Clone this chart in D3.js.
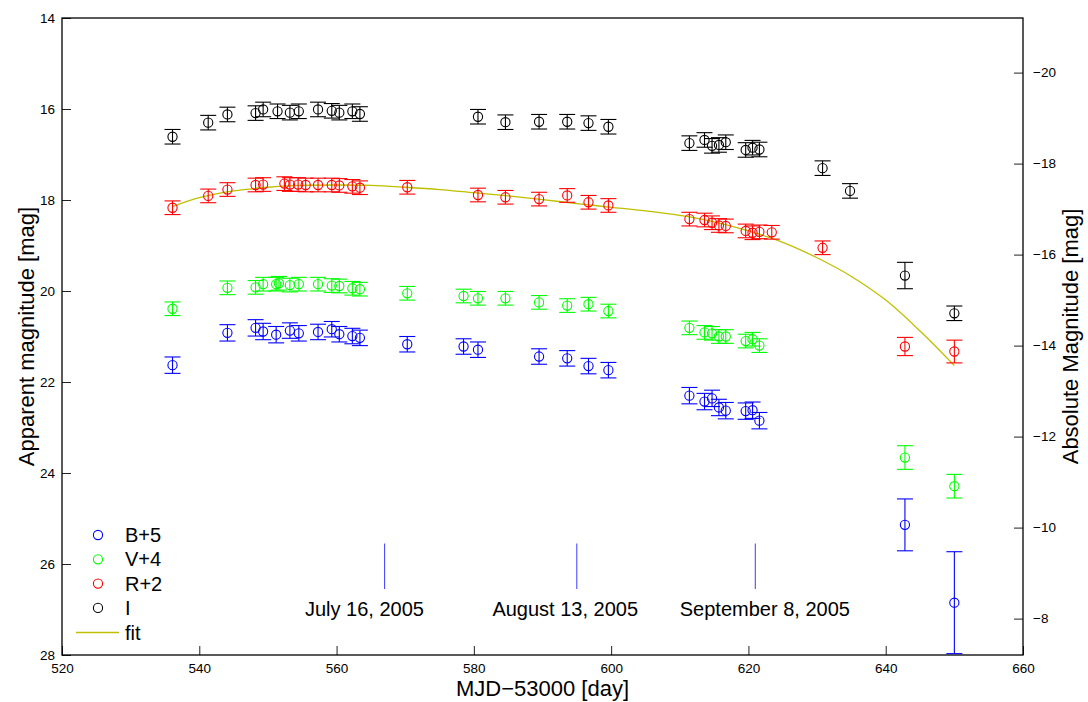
<!DOCTYPE html>
<html><head><meta charset="utf-8">
<script src="https://cdn.jsdelivr.net/npm/d3@7"></script>
<style>
html,body{margin:0;padding:0;background:#fff;}
svg{display:block;font-family:"Liberation Sans",Arial,Helvetica,sans-serif;}
</style></head>
<body><svg id="c" width="1088" height="702"></svg>
<script>
// ---------------- data ----------------
const xTicks = [520,540,560,580,600,620,640,660];
const yTicks = [14,16,18,20,22,24,26,28];
const absTicks = [-20,-18,-16,-14,-12,-10,-8];
const distMod = 35.2;

const daysB = [536.1,544.1,548.2,549.3,551.2,553.2,554.5,557.3,559.3,560.4,562.3,563.4,570.3,578.5,580.6,589.5,593.6,596.7,599.6,611.4,613.6,614.7,615.7,616.7,619.6,620.6,621.6,642.8,650.0];
const magB  = [21.63,20.92,20.81,20.89,20.96,20.87,20.93,20.90,20.84,20.95,20.99,21.03,21.17,21.22,21.29,21.44,21.48,21.65,21.74,22.30,22.43,22.36,22.56,22.63,22.64,22.62,22.85,25.14,26.85];
const errB  = [0.18,0.18,0.18,0.18,0.18,0.17,0.17,0.17,0.17,0.17,0.17,0.17,0.17,0.17,0.17,0.17,0.17,0.17,0.17,0.18,0.18,0.18,0.18,0.18,0.18,0.18,0.18,0.57,1.12];

const daysV = [536.1,544.1,548.2,549.3,551.2,551.6,553.2,554.5,557.3,559.3,560.4,562.3,563.4,570.3,578.5,580.6,584.6,589.5,593.6,596.7,599.6,611.4,613.6,614.7,615.7,616.7,619.6,620.6,621.6,642.8,650.0];
const magV  = [20.39,19.93,19.92,19.85,19.85,19.83,19.87,19.85,19.85,19.88,19.89,19.94,19.96,20.05,20.11,20.16,20.16,20.25,20.32,20.29,20.44,20.81,20.91,20.93,21.00,21.00,21.10,21.06,21.20,23.66,24.29];
const errV  = [0.15,0.15,0.15,0.15,0.15,0.15,0.15,0.15,0.15,0.15,0.15,0.15,0.15,0.15,0.15,0.15,0.15,0.15,0.15,0.15,0.15,0.15,0.15,0.15,0.15,0.15,0.15,0.15,0.15,0.26,0.26];

const daysR = [536.1,541.3,544.1,548.2,549.3,552.4,553.2,554.4,555.5,557.3,559.3,560.4,562.3,563.4,570.3,580.6,584.6,589.5,593.6,596.7,599.6,611.4,613.6,614.7,615.7,616.7,619.6,620.6,621.6,623.4,630.8,642.8,650.0];
const magR  = [18.17,17.91,17.77,17.67,17.66,17.64,17.66,17.66,17.67,17.67,17.67,17.68,17.70,17.73,17.72,17.89,17.94,17.98,17.90,18.05,18.12,18.42,18.44,18.50,18.56,18.57,18.68,18.72,18.70,18.71,19.05,21.22,21.33];
const errR  = [0.15,0.15,0.15,0.15,0.15,0.15,0.15,0.15,0.15,0.15,0.15,0.15,0.15,0.15,0.15,0.15,0.15,0.15,0.15,0.15,0.15,0.15,0.15,0.15,0.15,0.15,0.15,0.15,0.15,0.15,0.15,0.20,0.25];

const daysI = [536.1,541.3,544.1,548.2,549.3,551.4,553.2,554.5,557.3,559.3,560.4,562.3,563.4,580.6,584.6,589.5,593.6,596.7,599.6,611.4,613.6,614.7,615.7,616.7,619.6,620.6,621.6,630.8,634.8,642.8,650.0];
const magI  = [16.61,16.30,16.12,16.09,16.01,16.05,16.08,16.05,16.01,16.04,16.08,16.05,16.11,16.17,16.29,16.28,16.28,16.31,16.39,16.75,16.68,16.81,16.79,16.73,16.90,16.85,16.89,17.30,17.80,19.66,20.49];
const errI  = [0.16,0.16,0.16,0.16,0.16,0.16,0.16,0.16,0.16,0.16,0.16,0.16,0.16,0.16,0.16,0.16,0.16,0.16,0.16,0.16,0.16,0.16,0.16,0.16,0.16,0.16,0.16,0.16,0.16,0.29,0.16];

const fitDays = [536,540,545,550,555,560,565,570,575,580,585,590,595,600,605,610,615,620,625,630,635,640,645,650];
const fitMags = [18.15,17.95,17.80,17.72,17.68,17.67,17.68,17.72,17.77,17.84,17.91,17.99,18.08,18.16,18.24,18.34,18.48,18.68,18.93,19.27,19.68,20.20,20.88,21.64];

const eventDays  = [567,595,621];
const eventNames = ["July 16, 2005","August 13, 2005","September 8, 2005"];

const seriesNames  = ["B+5","V+4","R+2","I"];
const seriesColors = ["#0000ff","#00ff00","#ff0000","#000000"];
const fitColor = "#bfbf00";

// ---------------- layout ----------------
const svg = d3.select("#c");
const L = 62, R = 1023, T = 18, B = 655;
const x = d3.scaleLinear().domain([520,660]).range([L,R]);
const y = d3.scaleLinear().domain([14,28]).range([T,B]);
const yAbs = d3.scaleLinear().domain([14-distMod,28-distMod]).range([T,B]);

svg.append("defs").append("clipPath").attr("id","clip")
  .append("rect").attr("x",L).attr("y",T).attr("width",R-L).attr("height",B-T+1);

// axes
const fs = "13.5px";
const gx = svg.append("g").attr("transform",`translate(0,${B})`)
  .call(d3.axisBottom(x).tickValues(xTicks).tickSize(-9).tickPadding(8));
const gy = svg.append("g").attr("transform",`translate(${L},0)`)
  .call(d3.axisLeft(y).tickValues(yTicks).tickSize(-9).tickPadding(7));
const gr = svg.append("g").attr("transform",`translate(${R},0)`)
  .call(d3.axisRight(yAbs).tickValues(absTicks).tickSize(-9).tickPadding(10)
        .tickFormat(d => d3.format("d")(d).replace("-","\u2212")));
[gx,gy,gr].forEach(g=>{
  g.selectAll("text").attr("font-size",fs).attr("fill","#000").attr("font-family","Liberation Sans, Arial, sans-serif");
  g.selectAll("line").attr("stroke","#222");
  g.select(".domain").remove();
});
// frame
svg.append("rect").attr("x",L).attr("y",T).attr("width",R-L).attr("height",B-T)
  .attr("fill","none").attr("stroke","#000").attr("stroke-width",1.3);

// labels
svg.append("text").attr("x",(L+R)/2).attr("y",696).attr("text-anchor","middle")
  .attr("font-size","22px").text("MJD\u221253000 [day]");
svg.append("text").attr("transform",`translate(34,${(T+B)/2}) rotate(-90)`).attr("text-anchor","middle")
  .attr("font-size","22px").text("Apparent magnitude [mag]");
svg.append("text").attr("transform",`translate(1078,${(T+B)/2}) rotate(-90)`).attr("text-anchor","middle")
  .attr("font-size","22px").text("Absolute Magnitude [mag]");

const plot = svg.append("g").attr("clip-path","url(#clip)");

// fit line
plot.append("path")
  .datum(fitDays.map((d,i)=>[d,fitMags[i]]))
  .attr("d", d3.line().x(d=>x(d[0])).y(d=>y(d[1])).curve(d3.curveCatmullRom))
  .attr("fill","none").attr("stroke",fitColor).attr("stroke-width",1.3);

// series
const allSeries = [
  {days:daysB, mags:magB, errs:errB},
  {days:daysV, mags:magV, errs:errV},
  {days:daysR, mags:magR, errs:errR},
  {days:daysI, mags:magI, errs:errI}
];
const cap = 8;
allSeries.forEach((s,si)=>{
  const col = seriesColors[si];
  const pts = s.days.map((d,i)=>({d, m:s.mags[i], e:s.errs[i]}));
  const g = plot.append("g").attr("stroke",col).attr("fill","none").attr("stroke-width",1.1);
  pts.forEach(p=>{
    const cx = x(p.d), y1 = y(p.m - p.e), y2 = y(p.m + p.e);
    g.append("line").attr("x1",cx).attr("x2",cx).attr("y1",y1).attr("y2",y2);
    g.append("line").attr("x1",cx-cap).attr("x2",cx+cap).attr("y1",y1).attr("y2",y1);
    g.append("line").attr("x1",cx-cap).attr("x2",cx+cap).attr("y1",y2).attr("y2",y2);
    g.append("circle").attr("cx",cx).attr("cy",y(p.m)).attr("r",4.6);
  });
});

// event markers
eventDays.forEach((d,i)=>{
  svg.append("line").attr("x1",x(d)).attr("x2",x(d)).attr("y1",y(25.55)).attr("y2",y(26.55))
    .attr("stroke","#3a3aff").attr("stroke-width",1);
});
const labelDays = [555.4,582.7,610.0];
eventNames.forEach((n,i)=>{
  svg.append("text").attr("x",x(labelDays[i])).attr("y",616).attr("font-size","20px").text(n);
});

// legend
const lg = svg.append("g");
seriesNames.forEach((n,i)=>{
  const yy = 535 + i*24.3;
  lg.append("circle").attr("cx",98).attr("cy",yy).attr("r",4.6).attr("fill","none")
    .attr("stroke",seriesColors[i]).attr("stroke-width",1.1);
  lg.append("text").attr("x",125).attr("y",yy+7).attr("font-size","20px").text(n);
});
lg.append("line").attr("x1",76).attr("x2",119).attr("y1",632.5).attr("y2",632.5)
  .attr("stroke",fitColor).attr("stroke-width",1.3);
lg.append("text").attr("x",125).attr("y",639.5).attr("font-size","20px").text("fit");
</script></body></html>
